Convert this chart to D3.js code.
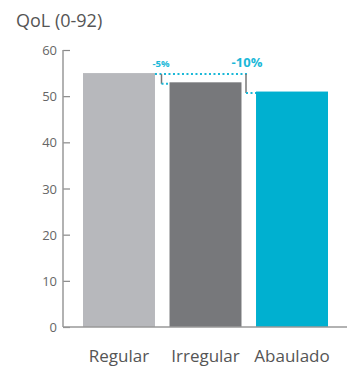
<!DOCTYPE html>
<html>
<head>
<meta charset="utf-8">
<script src="https://cdn.jsdelivr.net/npm/d3@7"></script>
<style>
  html, body { margin: 0; padding: 0; background: #fff; }
  svg { display: block; font-family: "Open Sans", "DejaVu Sans", sans-serif; }
</style>
</head>
<body>
<div id="chart"></div>
<script>
const categories = ["Regular", "Irregular", "Abaulado"];
const values = [55, 53, 51];
const colors = ["#b7b8bc", "#77787b", "#00b0d0"];
const yTicks = [0, 10, 20, 30, 40, 50, 60];
const diffLabels = ["-5%", "-10%"];

const W = 349, H = 368;
const svg = d3.select("#chart").append("svg").attr("width", W).attr("height", H);

const x = d3.scaleBand().domain(categories).range([83, 328]).paddingInner(0.168).paddingOuter(0);
const y = d3.scaleLinear().domain([0, 60]).range([327, 50]);
const axisX = 63;

// title
svg.append("text").attr("x", 16).attr("y", 27)
  .attr("font-size", 18).attr("fill", "#555").text("QoL (0-92)");

// y axis: ticks point inward toward the bars
const yAxis = svg.append("g").attr("transform", `translate(${axisX},0)`)
  .call(d3.axisRight(y).tickValues(yTicks).tickSize(7).tickFormat(""));
yAxis.select(".domain").remove();
yAxis.selectAll(".tick line").attr("stroke", "#888").attr("stroke-width", 1.2);
svg.append("line").attr("x1", axisX).attr("x2", axisX).attr("y1", y(60)).attr("y2", y(0))
  .attr("stroke", "#999").attr("stroke-width", 1.5);
svg.selectAll(".ylab").data(yTicks).enter().append("text")
  .attr("x", axisX - 6).attr("y", d => y(d) + 5)
  .attr("text-anchor", "end").attr("font-size", 13).attr("fill", "#666")
  .text(d => d);

// bars
svg.selectAll(".bar").data(categories).enter().append("rect")
  .attr("x", d => x(d)).attr("width", x.bandwidth())
  .attr("y", (d, i) => y(values[i]))
  .attr("height", (d, i) => y(0) - y(values[i]))
  .attr("fill", (d, i) => colors[i]);

// baseline
svg.append("line").attr("x1", axisX).attr("x2", 347).attr("y1", y(0)).attr("y2", y(0))
  .attr("stroke", "#999").attr("stroke-width", 1.5);

// category labels
svg.selectAll(".xlab").data(categories).enter().append("text")
  .attr("x", d => x(d) + x.bandwidth() / 2).attr("y", 362)
  .attr("text-anchor", "middle").attr("font-size", 17).attr("fill", "#555")
  .text(d => d);

// difference annotations
const cyan = "#1ab8d8";
const topY = y(values[0]) + 1;
const r0 = x(categories[0]) + x.bandwidth();
function dotted(x1, x2, yy) {
  svg.append("line").attr("x1", x1).attr("x2", x2).attr("y1", yy).attr("y2", yy)
    .attr("stroke", cyan).attr("stroke-width", 2).attr("stroke-dasharray", "2,2.5");
}
dotted(r0, 248, topY);

const drops = [
  { vx: 161.5, ex: 169, v: values[1] },
  { vx: 246, ex: 256, v: values[2] }
];
drops.forEach(d => {
  const yy = y(d.v) + 1.5;
  svg.append("line").attr("x1", d.vx).attr("x2", d.vx).attr("y1", topY).attr("y2", yy)
    .attr("stroke", "#777").attr("stroke-width", 1.5);
  dotted(d.vx, d.ex, yy);
});

svg.append("text").attr("x", 161).attr("y", 67).attr("text-anchor", "middle")
  .attr("font-size", 9.5).attr("font-weight", "bold").attr("fill", cyan).text(diffLabels[0]);
svg.append("text").attr("x", 247).attr("y", 67).attr("text-anchor", "middle")
  .attr("font-size", 13).attr("font-weight", "bold").attr("fill", cyan).text(diffLabels[1]);
</script>
</body>
</html>
